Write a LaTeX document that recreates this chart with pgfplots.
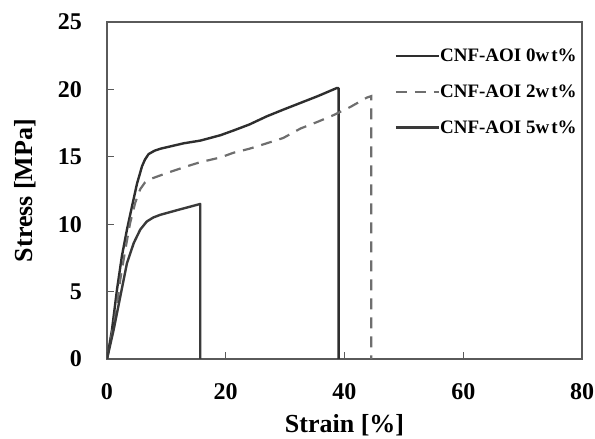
\documentclass[border=0pt]{standalone}
\usepackage{fontspec}
\setmainfont{Liberation Serif}
\usepackage{pgfplots}
\pgfplotsset{compat=1.18}
\definecolor{framec}{HTML}{5A5A5A}
\definecolor{c0}{HTML}{2E2E2E}
\definecolor{c2}{HTML}{6E6E6E}
\definecolor{c5}{HTML}{3A3A3A}
\begin{document}
\begin{tikzpicture}
\useasboundingbox (-107pt,-80pt) rectangle (488pt,359pt);
\begin{axis}[
  at={(0pt,0pt)}, anchor=south west,
  scale only axis, width=475pt, height=337pt,
  xmin=0, xmax=80, ymin=0, ymax=25,
  xtick={0,20,40,60,80}, ytick={0,5,10,15,20,25},
  xtick pos=bottom, ytick pos=left,
  tick align=inside,
  major tick length=7pt,
  every tick/.style={draw=framec, line width=1.2pt},
  axis line style={draw=framec, line width=1.4pt},
  /pgf/number format/assume math mode=true,
  tick label style={font=\fontsize{24}{24}\selectfont\bfseries, inner sep=0pt},
  yticklabel style={xshift=-25pt},
  xticklabel style={yshift=-24pt},
  xlabel={Strain [\%]}, ylabel={Stress [MPa]},
  label style={font=\fontsize{26}{26}\selectfont\bfseries, inner sep=0pt},
  xlabel style={at={(axis description cs:0.5,-0.164)}, anchor=north},
  ylabel style={at={(axis description cs:-0.1495,0.5)}, anchor=south},
  legend style={draw=none, fill=none, at={(axis description cs:0.599,0.926)}, anchor=north west,
    font=\fontsize{19}{19}\selectfont\bfseries, row sep=21.5pt, column sep=0pt, nodes={inner sep=0pt}},
  legend cell align=left,
  legend image code/.code={\draw[#1] (0pt,0pt) -- (43pt,0pt);},
]
\addplot[c0, line width=2.4pt, line join=round] coordinates {
(0,0) (0.84,2.17) (1.68,5.14) (2.52,7.66) (3.36,9.6) (4.2,11.3) (5.05,13.0) (5.9,14.3)
(6.4,14.8) (7.0,15.2) (8.0,15.45) (9.0,15.6) (12.9,16.0) (15.7,16.2) (19.1,16.6) (21.3,16.95)
(24,17.4) (26.9,18.0) (29.7,18.5) (32.6,19.0) (35.5,19.5) (38.7,20.1) (39.0,20.1) (39.0,0)
};
\addlegendentry{CNF-AOI 0w\kern2pt t\%}
\addplot[c2, line width=2.2pt, dash pattern=on 11pt off 8pt] coordinates {
(0,0) (1.4,3.16) (2.24,5.9) (3.08,8.1) (3.9,10.1) (4.76,11.6) (5.6,12.6) (6.4,13.1) (7.3,13.35)
(10.1,13.8) (13.5,14.3) (15.7,14.6) (19.1,14.95) (21.3,15.3) (24,15.6) (26.9,16.0) (29.7,16.4)
(32.6,17.1) (35.5,17.6) (38.2,18.1) (41,18.7) (43.8,19.4) (44.5,19.5) (44.5,0)
};
\addlegendentry{CNF-AOI 2w\kern2pt t\%}
\addplot[c5, line width=2.4pt, line join=round] coordinates {
(0,0) (1.12,2.17) (2.24,4.64) (3.36,7.1) (4.5,8.6) (5.6,9.6) (6.7,10.2) (7.8,10.5) (9.0,10.7)
(12.3,11.1) (15.7,11.5) (15.7,0)
};
\addlegendentry{CNF-AOI 5w\kern2pt t\%}
\end{axis}
\end{tikzpicture}
\end{document}
